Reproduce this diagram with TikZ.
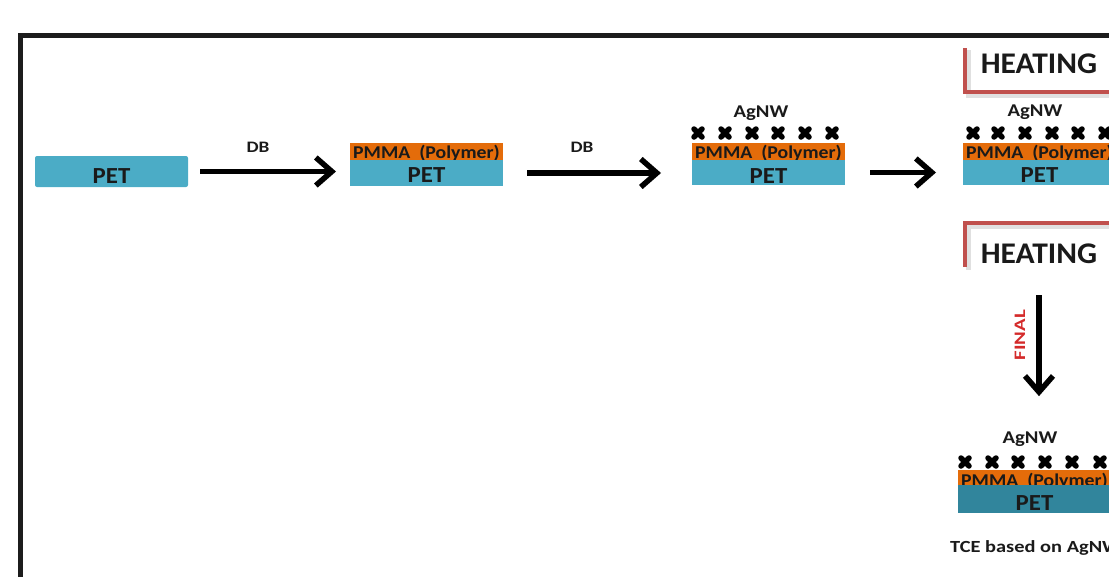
\documentclass[tikz,border=0pt]{standalone}
\usepackage{fontspec}
\setmainfont{Carlito}
\usetikzlibrary{arrows.meta}
\definecolor{petc}{HTML}{4BACC6}
\definecolor{petd}{HTML}{31859C}
\definecolor{pmmac}{HTML}{E46C0A}
\definecolor{heatc}{HTML}{C0504D}
\definecolor{ink}{HTML}{1A1A1A}
\definecolor{finalc}{HTML}{D42A2A}
\definecolor{framec}{HTML}{1C1C1C}
\newcommand{\wide}[2]{\scalebox{#1}[1]{#2}}
\begin{document}
\begin{tikzpicture}[x=1pt,y=-1pt,
  layerbase/.style={inner sep=0pt, outer sep=0pt, anchor=north west, minimum width=153pt, text=ink, text depth=0pt},
  petlayer/.style 2 args={layerbase, fill=petc, minimum height=#1, text height=#2, font=\bfseries\fontsize{23}{23}\selectfont},
  pmmalayer/.style={layerbase, fill=pmmac, minimum height=17pt, text height=#1, font=\bfseries\fontsize{18}{18}\selectfont},
  lbl/.style={inner sep=0pt, anchor=base, text=ink, font=\bfseries\fontsize{#1}{#1}\selectfont},
  heat/.style={inner sep=0pt, anchor=base, text=ink, font=\bfseries\fontsize{30}{30}\selectfont},
  bigarrow/.style={draw=black, line width=5.5pt, -{Straight Barb[length=16pt,width=28pt]}},
  bracket/.style={draw=heatc, line width=4.5pt, line join=miter},
  bracketshadow/.style={draw=black!12, line width=5pt},
  crossmark/.style={draw=black, line width=5.5pt, line cap=round},
  frameline/.style={draw=framec, line width=5pt}
]
\useasboundingbox (0,0) rectangle (1109,576);
\clip (0,0) rectangle (1109,576);

% frame
\draw[frameline] (20.5,600) -- (20.5,35.5) -- (1130,35.5);

% stage 1
\node[petlayer={31pt}{23pt}, rounded corners=2pt] (pet1) at (35,156) {\wide{1.08}{PET}};

% stage 2
\node[pmmalayer=13pt] (pmma2) at (350,143) {\wide{1.1}{PMMA \ (Polymer)}};
\node[petlayer={26pt}{18pt}] (pet2) at (350,160) {\wide{1.08}{PET}};

% stage 3
\node[pmmalayer=13pt] (pmma3) at (692,143) {\wide{1.1}{PMMA \ (Polymer)}};
\node[petlayer={25pt}{21pt}] (pet3) at (692,160) {\wide{1.08}{PET}};
\node[lbl=18] (agnw3) at (761,117) {\wide{1.15}{AgNW}};
\foreach \cx in {698,725,752,778,805,832}
  \draw[crossmark] (\cx-4,129) -- (\cx+4,137) (\cx-4,137) -- (\cx+4,129);

% stage 4
\node[pmmalayer=13pt] (pmma4) at (963,143) {\wide{1.1}{PMMA \ (Polymer)}};
\node[petlayer={25pt}{19pt}] (pet4) at (963,160) {\wide{1.08}{PET}};
\node[lbl=18] (agnw4) at (1035,116) {\wide{1.15}{AgNW}};
\foreach \cx in {973,998,1025,1052,1078,1105}
  \draw[crossmark] (\cx-4,129) -- (\cx+4,137) (\cx-4,137) -- (\cx+4,129);

% heating 1
\draw[bracketshadow] (968,50) -- (968,95) -- (1120,95);
\draw[bracket] (965,48) -- (965,92) -- (1120,92);
\node[heat] (heat1) at (1039,73) {\wide{1.05}{HEATING}};

% heating 2
\draw[bracketshadow] (1120,226) -- (968,226) -- (968,270);
\draw[bracket] (1120,223) -- (965,223) -- (965,267);
\node[heat] (heat2) at (1039,263) {\wide{1.05}{HEATING}};

% final stage
\node[pmmalayer=15pt] (pmma5) at (958,470) {\wide{1.1}{PMMA \ (Polymer)}};
\node[petlayer={28pt}{22pt}, fill=petd] (pet5) at (958,485) {\wide{1.08}{PET}};
\node[lbl=18] (agnw5) at (1030,443) {\wide{1.15}{AgNW}};
\foreach \cx in {965,992,1018,1045,1072,1100}
  \draw[crossmark] (\cx-4,458) -- (\cx+4,466) (\cx-4,466) -- (\cx+4,458);
\node[lbl=17, anchor=base west] (tce) at (950,552) {\wide{1.2}{TCE based on AgNW}};

% labels
\node[lbl=16] (db1) at (258,152) {\wide{1.2}{DB}};
\node[lbl=16] (db2) at (582,152) {\wide{1.2}{DB}};
\node[inner sep=0pt, rotate=90, text=finalc, font=\bfseries\fontsize{16}{16}\selectfont] (final) at (1020,335) {\wide{1.3}{FINAL}};

% connectors
\draw[bigarrow, shorten <=12pt, shorten >=14pt] (pet1.east) -- (pet1.east -| pet2.west);
\draw[bigarrow, shorten <=24pt, shorten >=31pt] (pet2.east) -- (pet2.east -| pet3.west);
\draw[bigarrow, shorten <=25pt, shorten >=27pt] (pet3.east) -- (pet3.east -| pet4.west);
\draw[bigarrow, shorten <=32pt, shorten >=35pt] (heat2.base) -- (heat2.base |- agnw5.north);
\end{tikzpicture}
\end{document}
